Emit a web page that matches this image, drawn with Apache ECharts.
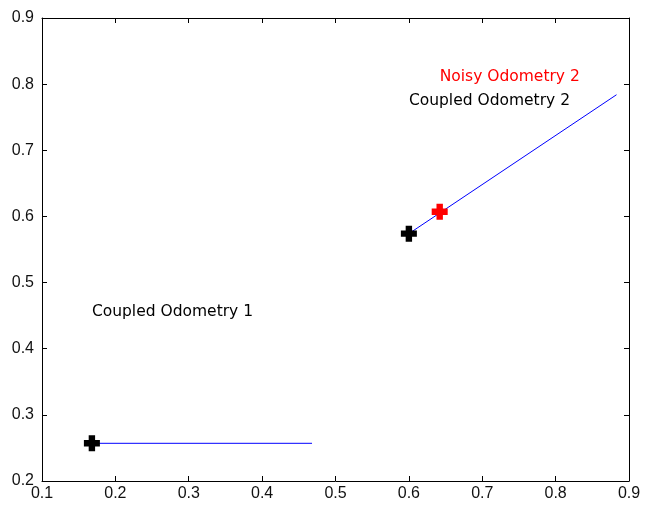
<!DOCTYPE html>
<html>
<head>
<meta charset="utf-8">
<script src="https://cdn.jsdelivr.net/npm/echarts@6/dist/echarts.min.js"></script>
<style>
  html, body { margin: 0; padding: 0; background: #fff; }
  #chart { width: 645px; height: 508px; }
</style>
</head>
<body>
<div id="chart"></div>
<script>
// Axis ranges and tick spacing
const xRange = [0.1, 0.9];
const yRange = [0.2, 0.9];
const tickStep = 0.1;

// Estimated robot positions
const coupledPoses = [[0.168, 0.257], [0.600, 0.574]];
const noisyPoses = [[0.642, 0.607]];

// Heading segments drawn from each pose
const heading1 = [[0.168, 0.257], [0.468, 0.257]];
const heading2 = [[0.600, 0.574], [0.883, 0.784]];

// Text annotations: [x, y, text]
const coupledLabels = [[0.168, 0.456, 'Coupled Odometry 1'], [0.600, 0.775, 'Coupled Odometry 2']];
const noisyLabels = [[0.642, 0.811, 'Noisy Odometry 2']];

const plusPath = 'path://M3,0 L7,0 L7,3 L10,3 L10,7 L7,7 L7,10 L3,10 L3,7 L0,7 L0,3 L3,3 Z';
const tickFont = 'Liberation Sans, Arial, Helvetica, sans-serif';
const textFont = 'DejaVu Sans, Verdana, sans-serif';
const fmt = v => v.toFixed(1);

const chart = echarts.init(document.getElementById('chart'), null, { renderer: 'canvas' });

function frameAxis(base, pos, showLabel, margin) {
  return {
    type: 'value',
    position: pos,
    min: base[0], max: base[1], interval: tickStep,
    axisLine: { show: true, onZero: false, lineStyle: { color: '#000', width: 1 } },
    axisTick: { show: true, inside: true, length: 5, lineStyle: { color: '#000' } },
    splitLine: { show: false },
    axisLabel: { show: showLabel, margin: margin, formatter: fmt, color: '#111', fontFamily: tickFont, fontSize: 16 }
  };
}

function textSeries(items, color) {
  return {
    type: 'scatter',
    xAxisIndex: 0, yAxisIndex: 0,
    symbolSize: 0,
    silent: true,
    z: 5,
    itemStyle: { opacity: 1 },
    data: items.map(d => ({ value: [d[0], d[1]], name: d[2] })),
    label: {
      show: true, position: 'right', distance: 0,
      formatter: p => p.name,
      color: color, fontFamily: textFont, fontSize: 15.5, opacity: 1
    }
  };
}

chart.setOption({
  animation: false,
  backgroundColor: '#fff',
  grid: { left: 42, right: 16, top: 18, bottom: 27 },
  xAxis: [frameAxis(xRange, 'bottom', true, 5), frameAxis(xRange, 'top', false, 5)],
  yAxis: [frameAxis(yRange, 'left', true, 8), frameAxis(yRange, 'right', false, 8)],
  series: [
    { type: 'line', data: heading1, symbol: 'none', lineStyle: { color: '#0000ff', width: 1 }, z: 2 },
    { type: 'line', data: heading2, symbol: 'none', lineStyle: { color: '#0000ff', width: 1 }, z: 2 },
    { type: 'scatter', data: coupledPoses, symbol: plusPath, symbolSize: 16, itemStyle: { color: '#000', opacity: 1 }, z: 3 },
    { type: 'scatter', data: noisyPoses, symbol: plusPath, symbolSize: 16, itemStyle: { color: '#ff0000', opacity: 1 }, z: 3 },
    textSeries(coupledLabels, '#000'),
    textSeries(noisyLabels, '#ff0000')
  ]
});
</script>
</body>
</html>
